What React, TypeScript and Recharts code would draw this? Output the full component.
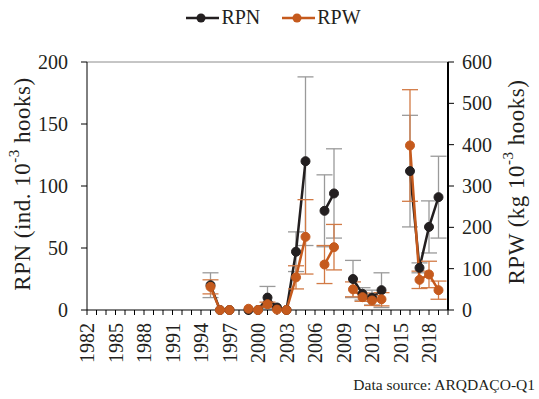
import React from 'react';
import { LineChart, Line, XAxis, YAxis, ErrorBar, Legend, ReferenceLine } from 'recharts';

const FONT = '"Liberation Serif", "Times New Roman", serif';
const TEXT = '#231f20';
const RPN_COLOR = '#231f20';
const RPW_COLOR = '#c55a1d';

// survey years (nulls = no survey that year)
const years = [1995, 1996, 1997, 1998, 1999, 2000, 2001, 2002, 2003, 2004, 2005, 2006, 2007, 2008, 2009, 2010, 2011, 2012, 2013, 2014, 2015, 2016, 2017, 2018, 2019];
const rpn = [20, 0, 0, null, 0, 0, 10, 2, 0, 47, 120, null, 80, 94, null, 25, 13, 10, 16, null, null, 112, 34, 67, 91];
const rpnErr = [10, 0, 0, null, 0, 0, 9, 0, 0, 16, 68, null, 29, 36, null, 15, 5, 6, 14, null, null, 45, 4, 21, 33];
const rpw = [56, 0, 0, null, 3, 0, 14, 1, 0, 79, 177, null, 110, 152, null, 50, 31, 23, 26, null, null, 398, 73, 86, 48];
const rpwErr = [17, 0, 0, null, 0, 0, 5, 0, 0, 28, 90, null, 46, 55, null, 18, 10, 12, 16, null, null, 135, 21, 32, 22];

const leftTicks = [0, 50, 100, 150, 200];
const rightTicks = [0, 100, 200, 300, 400, 500, 600];
const labelYears = [1982, 1985, 1988, 1991, 1994, 1997, 2000, 2003, 2006, 2009, 2012, 2015, 2018];
const tickYears = Array.from({ length: 39 }, (_, i) => 1982 + i);

const data = years.map((year, i) => ({
    year,
    rpn: rpn[i],
    rpnErr: rpnErr[i],
    rpw: rpw[i],
    rpwErr: rpwErr[i],
}));

const legendItems = [
    { name: 'RPN', color: RPN_COLOR },
    { name: 'RPW', color: RPW_COLOR },
];

const textStyle = { fontFamily: FONT };

const YearTick = (props: any) => {
    const { x, y, payload } = props;
    if (!labelYears.includes(payload.value)) return <g />;
    return (
        <text
            x={x}
            y={y}
            transform={`rotate(-90, ${x}, ${y})`}
            textAnchor="end"
            dy="0.35em"
            style={textStyle}
            fontSize={20}
            fill={TEXT}
        >
            {payload.value}
        </text>
    );
};

const ValueTick = (props: any) => {
    const { x, y, payload, textAnchor } = props;
    return (
        <text x={x} y={y} dy="0.35em" textAnchor={textAnchor} style={textStyle} fontSize={20} fill={TEXT}>
            {payload.value}
        </text>
    );
};

const AxisTitle = ({ x, y, main }: { x: number; y: number; main: string }) => (
    <text
        x={x}
        y={y}
        transform={`rotate(-90, ${x}, ${y})`}
        textAnchor="middle"
        dominantBaseline="central"
        style={{ fontFamily: FONT, letterSpacing: 0.5 }}
        fontSize={23}
        fill={TEXT}
    >
        {main} 10
        <tspan dy={-8} fontSize={15}>-3</tspan>
        <tspan dy={8}> hooks)</tspan>
    </text>
);

const renderLegend = () => (
    <div style={{ display: 'flex', justifyContent: 'center', gap: 22, paddingLeft: 12, fontFamily: FONT, fontSize: 20, color: TEXT }}>
        {legendItems.map(item => (
            <span key={item.name} style={{ display: 'flex', alignItems: 'center' }}>
                <svg width={33} height={12}>
                    <line x1={0} y1={6} x2={33} y2={6} stroke={item.color} strokeWidth={2.5} />
                    <circle cx={15} cy={6} r={4.5} fill={item.color} />
                </svg>
                <span style={{ marginLeft: 2 }}>{item.name}</span>
            </span>
        ))}
    </div>
);

export default function App() {
    return (
        <div style={{ position: 'absolute', left: 0, top: 0, width: 539, height: 399, overflow: 'hidden', background: '#fff', fontFamily: FONT }}>
            <LineChart width={539} height={399} data={data} margin={{ top: 32, right: 31, left: 27, bottom: 29 }} style={textStyle}>
                <Legend verticalAlign="top" height={30} content={renderLegend} wrapperStyle={{ top: 6 }} />
                <XAxis
                    dataKey="year"
                    type="number"
                    domain={[1982, 2020]}
                    ticks={tickYears}
                    interval={0}
                    height={60}
                    tick={<YearTick />}
                    tickSize={5}
                    tickMargin={8}
                    stroke="#000"
                    axisLine={{ stroke: '#000' }}
                    tickLine={{ stroke: '#000' }}
                />
                <YAxis
                    yAxisId="left"
                    domain={[0, 200]}
                    ticks={leftTicks}
                    width={60}
                    tickSize={6}
                    tickMargin={13}
                    stroke="#000"
                    tick={<ValueTick />}
                    label={() => <AxisTitle x={22} y={184} main="RPN (ind." />}
                />
                <YAxis
                    yAxisId="right"
                    orientation="right"
                    domain={[0, 600]}
                    ticks={rightTicks}
                    width={60}
                    tickSize={6}
                    tickMargin={8}
                    stroke="#000"
                    axisLine={{ stroke: '#000', strokeWidth: 2 }}
                    tick={<ValueTick />}
                    label={() => <AxisTitle x={516} y={182} main="RPW (kg" />}
                />
                <ReferenceLine yAxisId="left" y={200} stroke="#8c8c8c" strokeWidth={1} />
                <Line
                    yAxisId="left"
                    dataKey="rpn"
                    name="RPN"
                    stroke={RPN_COLOR}
                    strokeWidth={2.5}
                    dot={{ r: 4.5, fill: RPN_COLOR, stroke: RPN_COLOR, strokeWidth: 1 }}
                    connectNulls={false}
                    isAnimationActive={false}
                >
                    <ErrorBar dataKey="rpnErr" direction="y" width={8} stroke="#9a9a9a" strokeWidth={1.3} />
                </Line>
                <Line
                    yAxisId="right"
                    dataKey="rpw"
                    name="RPW"
                    stroke={RPW_COLOR}
                    strokeWidth={2.5}
                    dot={{ r: 4.5, fill: RPW_COLOR, stroke: RPW_COLOR, strokeWidth: 1 }}
                    connectNulls={false}
                    isAnimationActive={false}
                >
                    <ErrorBar dataKey="rpwErr" direction="y" width={8} stroke="#d27a45" strokeWidth={1.3} />
                </Line>
            </LineChart>
            <div
                style={{
                    position: 'absolute',
                    right: 4,
                    top: 376,
                    fontFamily: FONT,
                    fontSize: 15.5,
                    color: TEXT,
                    whiteSpace: 'nowrap',
                }}
            >
                Data source: ARQDAÇO-Q1
            </div>
        </div>
    );
}
